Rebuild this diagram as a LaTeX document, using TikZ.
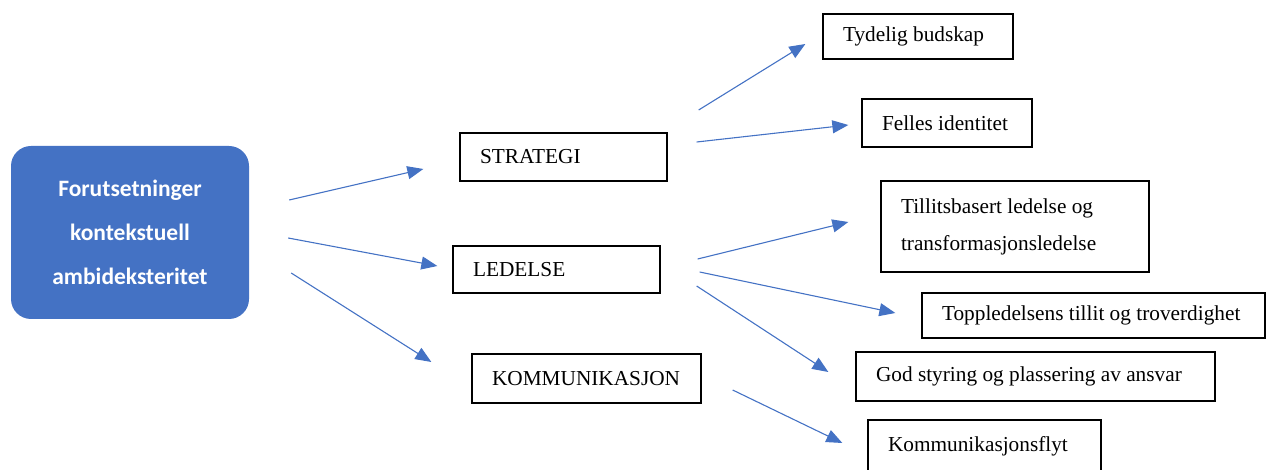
\documentclass[tikz,border=0pt]{standalone}
\usepackage{fontspec}
\setmainfont{Liberation Serif}
\newfontfamily\calibri{Carlito}
\usepackage{tikz}
\usetikzlibrary{arrows.meta}
\definecolor{wordblue}{HTML}{4472C4}

\tikzset{
  box/.style={draw,line width=1.3pt,inner xsep=20pt,inner ysep=0pt,align=flush left,
    font=\fontsize{21.3}{37}\selectfont},
  arr/.style={draw=wordblue,line width=1.1pt,-{Triangle[length=16pt,width=13pt]}}
}

\begin{document}
\begin{tikzpicture}[x=1pt,y=-1pt]
              \useasboundingbox (0,0) rectangle (1269,470);

              \node[fill=wordblue,rounded corners=20pt,text=white,align=center,
                minimum width=238,minimum height=173,
                font=\calibri\bfseries\fontsize{23.5}{44}\selectfont] (forut) at (130,232.5)
                {Forutsetninger\\kontekstuell\\ambideksteritet};

              \node[box,text width=167,minimum height=48] (strategi) at (563.5,157) {STRATEGI};
              \node[box,text width=167,minimum height=47] (ledelse) at (556.5,269.5) {LEDELSE};
              \node[box,text width=189,minimum height=49] (komm) at (586.5,378.5) {KOMMUNIKASJON};

              \node[box,text width=150,minimum height=45] (budskap) at (918,36.5) {Tydelig budskap};
              \node[box,text width=130,minimum height=48] (identitet) at (947,123) {Felles identitet};
              \node[box,text width=228,minimum height=91] (tillit) at (1015,226.5)
                {Tillitsbasert ledelse og\\transformasjonsledelse};
              \node[box,text width=303,minimum height=45] (toppled) at (1093.5,315.5) {Toppledelsens tillit og troverdighet};
              \node[box,text width=319,minimum height=49] (styring) at (1035.5,376.5) {God styring og plassering av ansvar};
              \node[box,text width=193,minimum height=52] (flyt) at (984.5,446) {Kommunikasjonsflyt};

              %forut>midten
              \draw[arr] ([shift={(40,-32.5)}]forut.east) -- ([shift={(-36,12)}]strategi.west);
              \draw[arr] ([shift={(39,5.5)}]forut.east) -- ([shift={(-15,-3.5)}]ledelse.west);
              \draw[arr] ([shift={(42,40.5)}]forut.east) -- ([shift={(-40,-16.5)}]komm.west);

              %strategi>
              \draw[arr] ([shift={(31,-47)}]strategi.east) -- ([shift={(-17,7.5)}]budskap.west);
              \draw[arr] ([shift={(29,-15)}]strategi.east) -- ([shift={(-13,2)}]identitet.west);

              %ledelse>
              \draw[arr] ([shift={(37,-10.5)}]ledelse.east) -- ([shift={(-32,-4.5)}]tillit.west);
              \draw[arr] ([shift={(39,2.5)}]ledelse.east) -- ([shift={(-26,-2.5)}]toppled.west);
              \draw[arr] ([shift={(36,16.5)}]ledelse.east) -- ([shift={(-27,-4.5)}]styring.west);

              %komm>
              \draw[arr] ([shift={(31,11.5)}]komm.east) -- ([shift={(-25,-3)}]flyt.west);

\end{tikzpicture}
\end{document}
